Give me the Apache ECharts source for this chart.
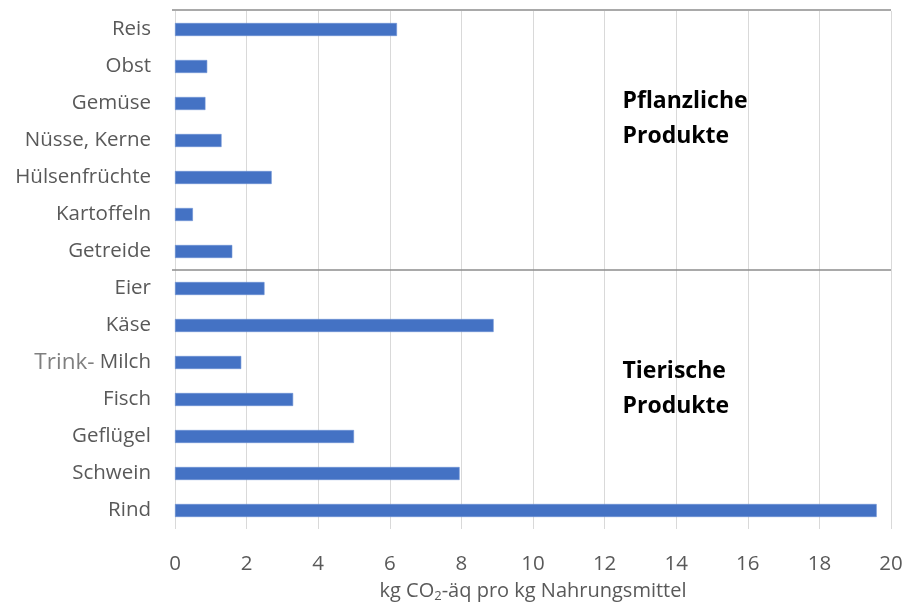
<!DOCTYPE html>
<html>
<head>
<meta charset="utf-8">
<script src="https://cdn.jsdelivr.net/npm/echarts@6/dist/echarts.min.js"></script>
<style>
  html, body { margin: 0; padding: 0; background: #fff; }
  #chart { width: 907px; height: 610px; }
</style>
</head>
<body>
<div id="chart"></div>
<script>
// Food products, listed bottom to top on the category axis
const categories = ['Rind', 'Schwein', 'Geflügel', 'Fisch', 'Trink- Milch', 'Käse', 'Eier',
  'Getreide', 'Kartoffeln', 'Hülsenfrüchte', 'Nüsse, Kerne', 'Gemüse', 'Obst', 'Reis'];
// kg CO2-equivalent per kg of food
const emissions = [19.6, 7.95, 5.0, 3.3, 1.85, 8.9, 2.5, 1.6, 0.5, 2.7, 1.3, 0.85, 0.9, 6.2];
const xTicks = { min: 0, max: 20, step: 2 };
const groupLabels = [
  { text: 'Pflanzliche\nProdukte', cat: 'Gemüse' },
  { text: 'Tierische\nProdukte', cat: 'Trink- Milch' }
];
// boundary between animal and plant groups lies between these two categories
const groupSplit = ['Eier', 'Getreide'];

const FONT = '"Open Sans", sans-serif';
const chart = echarts.init(document.getElementById('chart'), null, { renderer: 'canvas' });

chart.setOption({
  animation: false,
  grid: { left: 175, right: 16, top: 11, bottom: 81, outerBoundsMode: 'none', containLabel: false },
  xAxis: {
    type: 'value',
    min: xTicks.min, max: xTicks.max, interval: xTicks.step,
    axisLine: { show: false },
    axisTick: { show: false },
    splitLine: { lineStyle: { color: '#d9d9d9', width: 1 } },
    axisLabel: { color: '#595959', fontSize: 20.5, fontFamily: FONT, margin: 25 },
    name: '{t|kg CO}{s|2}{t|-äq pro kg Nahrungsmittel}',
    nameLocation: 'middle',
    nameGap: 51,
    nameTextStyle: {
      rich: {
        t: { color: '#595959', fontSize: 20, fontFamily: FONT },
        s: { color: '#595959', fontSize: 13, fontFamily: FONT, verticalAlign: 'bottom', padding: [10, 0, 0, 0] }
      }
    }
  },
  yAxis: {
    type: 'category',
    data: categories,
    axisLine: { show: false },
    axisTick: { show: false },
    splitLine: { show: false },
    axisLabel: {
      color: '#595959', fontSize: 20.5, fontFamily: FONT, margin: 24,
      formatter: function (v) {
        if (v.indexOf('Trink-') === 0) {
          return '{light|Trink-}{n|' + v.slice(6) + '}';
        }
        return v;
      },
      rich: {
        light: { color: '#7f7f7f', fontSize: 22.5, fontFamily: FONT },
        n: { color: '#595959', fontSize: 20.5, fontFamily: FONT }
      }
    }
  },
  series: [{
    type: 'bar',
    data: emissions,
    barWidth: 13,
    itemStyle: { color: '#4472c4', borderColor: '#6a8fd4', borderWidth: 0.6 }
  }]
});

// Top frame line, group divider and group captions placed through the axis scales
function decorate() {
  const x0 = chart.convertToPixel({ xAxisIndex: 0 }, xTicks.min);
  const x1 = chart.convertToPixel({ xAxisIndex: 0 }, xTicks.max);
  const yTopCat = chart.convertToPixel({ yAxisIndex: 0 }, categories[categories.length - 1]);
  const yNext = chart.convertToPixel({ yAxisIndex: 0 }, categories[categories.length - 2]);
  const band = yNext - yTopCat;
  const yTop = Math.round(yTopCat - band / 2) - 1;
  const ySplit = (chart.convertToPixel({ yAxisIndex: 0 }, groupSplit[0]) +
                  chart.convertToPixel({ yAxisIndex: 0 }, groupSplit[1])) / 2;
  const xText = chart.convertToPixel({ xAxisIndex: 0 }, 12.5);
  const lineStyle = { stroke: '#8c8c8c', lineWidth: 1.3 };
  const elements = [
    { type: 'line', shape: { x1: x0 - 3, y1: yTop, x2: x1, y2: yTop }, style: lineStyle, silent: true },
    { type: 'line', shape: { x1: x0 - 3, y1: ySplit, x2: x1, y2: ySplit }, style: lineStyle, silent: true }
  ];
  groupLabels.forEach(function (g, i) {
    const yc = chart.convertToPixel({ yAxisIndex: 0 }, g.cat);
    elements.push({
      type: 'text', left: xText, top: yc - 18 + (i === 1 ? 10 : -1),
      style: { text: g.text, fill: '#000', font: 'bold 23px ' + FONT, lineHeight: 34.5 }
    });
  });
  chart.setOption({ graphic: elements });
}
decorate();
</script>
</body>
</html>
